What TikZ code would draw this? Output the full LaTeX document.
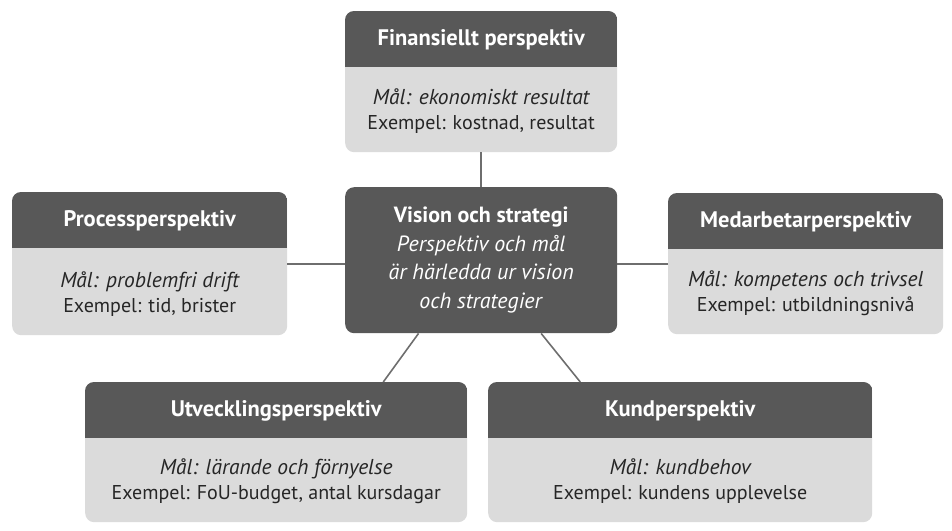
\documentclass[tikz,border=0pt]{standalone}
\usepackage{fontspec}
\setmainfont{PT Sans}
\usetikzlibrary{positioning,calc}

\definecolor{headgray}{HTML}{585858}
\definecolor{bodygray}{HTML}{DBDBDB}
\definecolor{linegray}{HTML}{6E6E6E}

\tikzset{
	perspbody/.style={fill=bodygray, rounded corners=9pt, inner sep=0pt},
	headtext/.style={text=white, font=\bfseries\fontsize{22.5}{24}\selectfont},
	bodytext/.style={align=center, text=black!85, font=\fontsize{20}{25}\selectfont},
	link/.style={draw=linegray, line width=1.6pt},
}

% name, left, top, width, height, title, goal, example
\newcommand{\persp}[8]{%
	\node[perspbody, minimum width=#4pt, minimum height=#5pt, anchor=north west] (#1) at (#2,#3) {};
	\begin{scope}
		\clip[rounded corners=9pt] (#1.north west) rectangle (#1.south east);
		\fill[headgray] (#1.north west) rectangle ([yshift=-56pt]#1.north east);
	\end{scope}
	\node[headtext] (#1-title) at ($(#1.north)+(0,29)$) {#6};
	\node[bodytext] (#1-text) at ($(#1.south)+(0,-41)$) {{\fontsize{21.5}{25}\selectfont\itshape #7}\\#8};
}

\begin{document}
\begin{tikzpicture}[x=1pt, y=-1pt]
	\useasboundingbox (0,0) rectangle (952,530);
	
	\persp{fin}{345}{11}{272}{141}{Finansiellt perspektiv}{Mål: ekonomiskt resultat}{Exempel: kostnad, resultat}
	\persp{proc}{12}{192}{275}{143}{Processperspektiv}{Mål: problemfri drift}{Exempel: tid, brister}
	\persp{medarb}{668}{193}{275}{141}{Medarbetarperspektiv}{Mål: kompetens och trivsel}{Exempel: utbildningsnivå}
	\persp{utv}{85}{382}{382}{140}{Utvecklingsperspektiv}{Mål: lärande och förnyelse}{Exempel: FoU-budget, antal kursdagar}
	\persp{kund}{488}{382}{384}{140}{Kundperspektiv}{Mål: kundbehov}{Exempel: kundens upplevelse}
	
	\node[fill=headgray, rounded corners=9pt, minimum width=272pt, minimum height=146pt,
		anchor=north west, align=center, text=white, font=\fontsize{22}{28.5}\selectfont]
		(vision) at (345,187) {\textbf{Vision och strategi}\\\textit{Perspektiv och mål}\\\textit{är härledda ur vision}\\\textit{och strategier}};
	
	\draw[link] (fin.south) -- (vision.north);
	\draw[link] (proc.east) -- (proc.east -| vision.west);
	\draw[link] (medarb.west) -- (medarb.west -| vision.east);
	\draw[link] ($(vision.south west)!0.27!(vision.south east)$) -- ($(utv.north west)!0.78!(utv.north east)$);
	\draw[link] ($(vision.south west)!0.72!(vision.south east)$) -- ($(kund.north west)!0.24!(kund.north east)$);
\end{tikzpicture}
\end{document}
